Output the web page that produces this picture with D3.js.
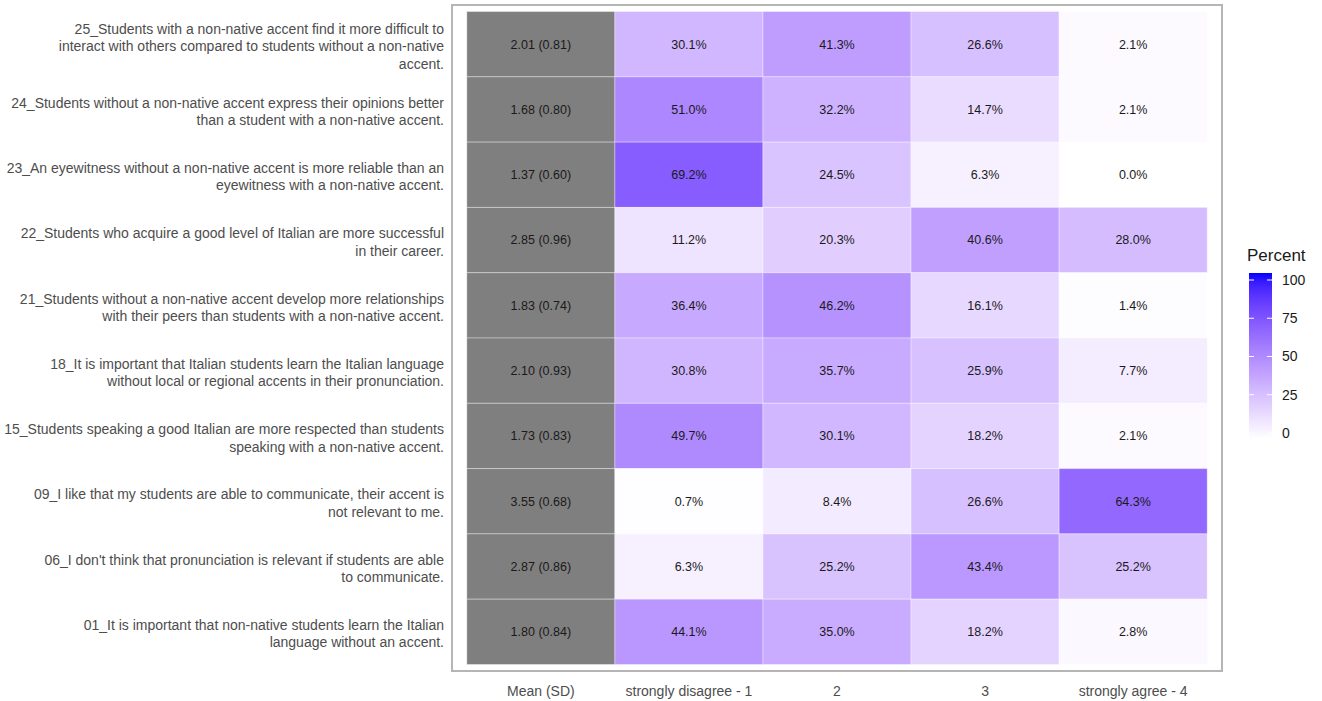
<!DOCTYPE html>
<html>
<head>
<meta charset="UTF-8">
<title></title>
<script src="https://cdn.jsdelivr.net/npm/d3@7"></script>
<style>
    body{ margin:0; padding:0; background:#fff; }
    svg text{ font-family:"Liberation Sans Narrow","Arial Narrow","Liberation Sans",sans-serif; }
</style>
</head>
<body>
<svg id="chart" width="1322" height="701"></svg>
<script>
    // rows, top to bottom
    var items = ["25","24","23","22","21","18","15","09","06","01"];
    var itemLabels = [
        ["25_Students with a non-native accent find it more difficult to","interact with others compared to students without a non-native","accent."],
        ["24_Students without a non-native accent express their opinions better","than a student with a non-native accent."],
        ["23_An eyewitness without a non-native accent is more reliable than an","eyewitness with a non-native accent."],
        ["22_Students who acquire a good level of Italian are more successful","in their career."],
        ["21_Students without a non-native accent develop more relationships","with their peers than students with a non-native accent."],
        ["18_It is important that Italian students learn the Italian language","without local or regional accents in their pronunciation."],
        ["15_Students speaking a good Italian are more respected than students","speaking with a non-native accent."],
        ["09_I like that my students are able to communicate, their accent is","not relevant to me."],
        ["06_I don't think that pronunciation is relevant if students are able","to communicate."],
        ["01_It is important that non-native students learn the Italian","language without an accent."]
    ];
    var columns = ["Mean (SD)","strongly disagree - 1","2","3","strongly agree - 4"];
    var means = [2.01,1.68,1.37,2.85,1.83,2.10,1.73,3.55,2.87,1.80];
    var sds   = [0.81,0.80,0.60,0.96,0.74,0.93,0.83,0.68,0.86,0.84];
    var pct1 = [30.1,51.0,69.2,11.2,36.4,30.8,49.7,0.7,6.3,44.1];
    var pct2 = [41.3,32.2,24.5,20.3,46.2,35.7,30.1,8.4,25.2,35.0];
    var pct3 = [26.6,14.7,6.3,40.6,16.1,25.9,18.2,26.6,43.4,18.2];
    var pct4 = [2.1,2.1,0.0,28.0,1.4,7.7,2.1,64.3,25.2,2.8];
    var legendTicks = [0,25,50,75,100];

    var svg = d3.select("#chart");

    var x = d3.scaleBand().domain(columns).range([452,1222]).paddingInner(0).paddingOuter(0.1);
    var y = d3.scaleBand().domain(items).range([5,671]).paddingInner(0).paddingOuter(0.1);
    var color = d3.scaleSequential(d3.interpolateLab("white","blue")).domain([0,100]);

    var cells = [];
    var pcts = [pct1,pct2,pct3,pct4];
    items.forEach(function(it,i){
        cells.push({item:it, col:columns[0], mean:true, label:means[i].toFixed(2)+" ("+sds[i].toFixed(2)+")"});
        pcts.forEach(function(p,j){
            cells.push({item:it, col:columns[j+1], value:p[i], label:p[i].toFixed(1)+"%"});
        });
    });

    svg.selectAll(".tile")
        .data(cells)
        .enter()
        .append("rect")
        .attr("class","tile")
        .attr("x",function(d){ return x(d.col); })
        .attr("y",function(d){ return y(d.item); })
        .attr("width",x.bandwidth())
        .attr("height",y.bandwidth())
        .attr("fill",function(d){ return d.mean ? "#7f7f7f" : color(d.value); })
        .attr("stroke","rgba(255,255,255,0.35)")
        .attr("stroke-width",1);

    svg.selectAll(".cellText")
        .data(cells)
        .enter()
        .append("text")
        .attr("class","cellText")
        .attr("x",function(d){ return x(d.col)+x.bandwidth()/2; })
        .attr("y",function(d){ return y(d.item)+y.bandwidth()/2; })
        .attr("dy","0.35em")
        .attr("text-anchor","middle")
        .attr("font-size",12.5)
        .attr("fill","#1a1a1a")
        .text(function(d){ return d.label; });

    // panel border
    svg.append("rect")
        .attr("x",452).attr("y",5)
        .attr("width",770).attr("height",666)
        .attr("fill","none")
        .attr("stroke","#b5b5b5")
        .attr("stroke-width",2);

    // row labels
    var lineH = 17.5;
    var rowLab = svg.selectAll(".rowLab")
        .data(items)
        .enter()
        .append("text")
        .attr("class","rowLab")
        .attr("text-anchor","end")
        .attr("font-size",14)
        .attr("fill","#4d4d4d");
    rowLab.each(function(d,i){
        var lines = itemLabels[i];
        var cy = y(d)+y.bandwidth()/2 + 2;
        var t = d3.select(this);
        lines.forEach(function(l,k){
            t.append("tspan")
                .attr("x",444)
                .attr("y",cy + (k-(lines.length-1)/2)*lineH)
                .attr("dy","0.35em")
                .text(l);
        });
    });

    // x axis labels
    svg.selectAll(".colLab")
        .data(columns)
        .enter()
        .append("text")
        .attr("class","colLab")
        .attr("x",function(d){ return x(d)+x.bandwidth()/2; })
        .attr("y",691)
        .attr("dy","0.35em")
        .attr("text-anchor","middle")
        .attr("font-size",14)
        .attr("fill","#4d4d4d")
        .text(function(d){ return d; });

    // legend
    var lg = svg.append("g");
    var ly = d3.scaleLinear().domain([0,100]).range([433,280]);
    var grad = svg.append("defs").append("linearGradient")
        .attr("id","pgrad").attr("x1",0).attr("y1",1).attr("x2",0).attr("y2",0);
    d3.range(0,101,5).forEach(function(v){
        grad.append("stop").attr("offset",(v/100)).attr("stop-color",color(v));
    });
    lg.append("text")
        .attr("x",1247).attr("y",261)
        .attr("font-size",17)
        .attr("fill","#1a1a1a")
        .text("Percent");
    lg.append("rect")
        .attr("x",1249).attr("y",ly(100)-7)
        .attr("width",23).attr("height",ly(0)-ly(100)+13)
        .attr("fill","url(#pgrad)");
    lg.selectAll(".tk")
        .data(legendTicks)
        .enter()
        .append("g")
        .each(function(v){
            var g = d3.select(this);
            g.append("line").attr("x1",1249).attr("x2",1254).attr("y1",ly(v)).attr("y2",ly(v)).attr("stroke","#fff").attr("stroke-width",1);
            g.append("line").attr("x1",1267).attr("x2",1272).attr("y1",ly(v)).attr("y2",ly(v)).attr("stroke","#fff").attr("stroke-width",1);
            g.append("text").attr("x",1282).attr("y",ly(v)).attr("dy","0.35em")
                .attr("font-size",14).attr("fill","#1a1a1a").text(v);
        });
</script>
</body>
</html>
